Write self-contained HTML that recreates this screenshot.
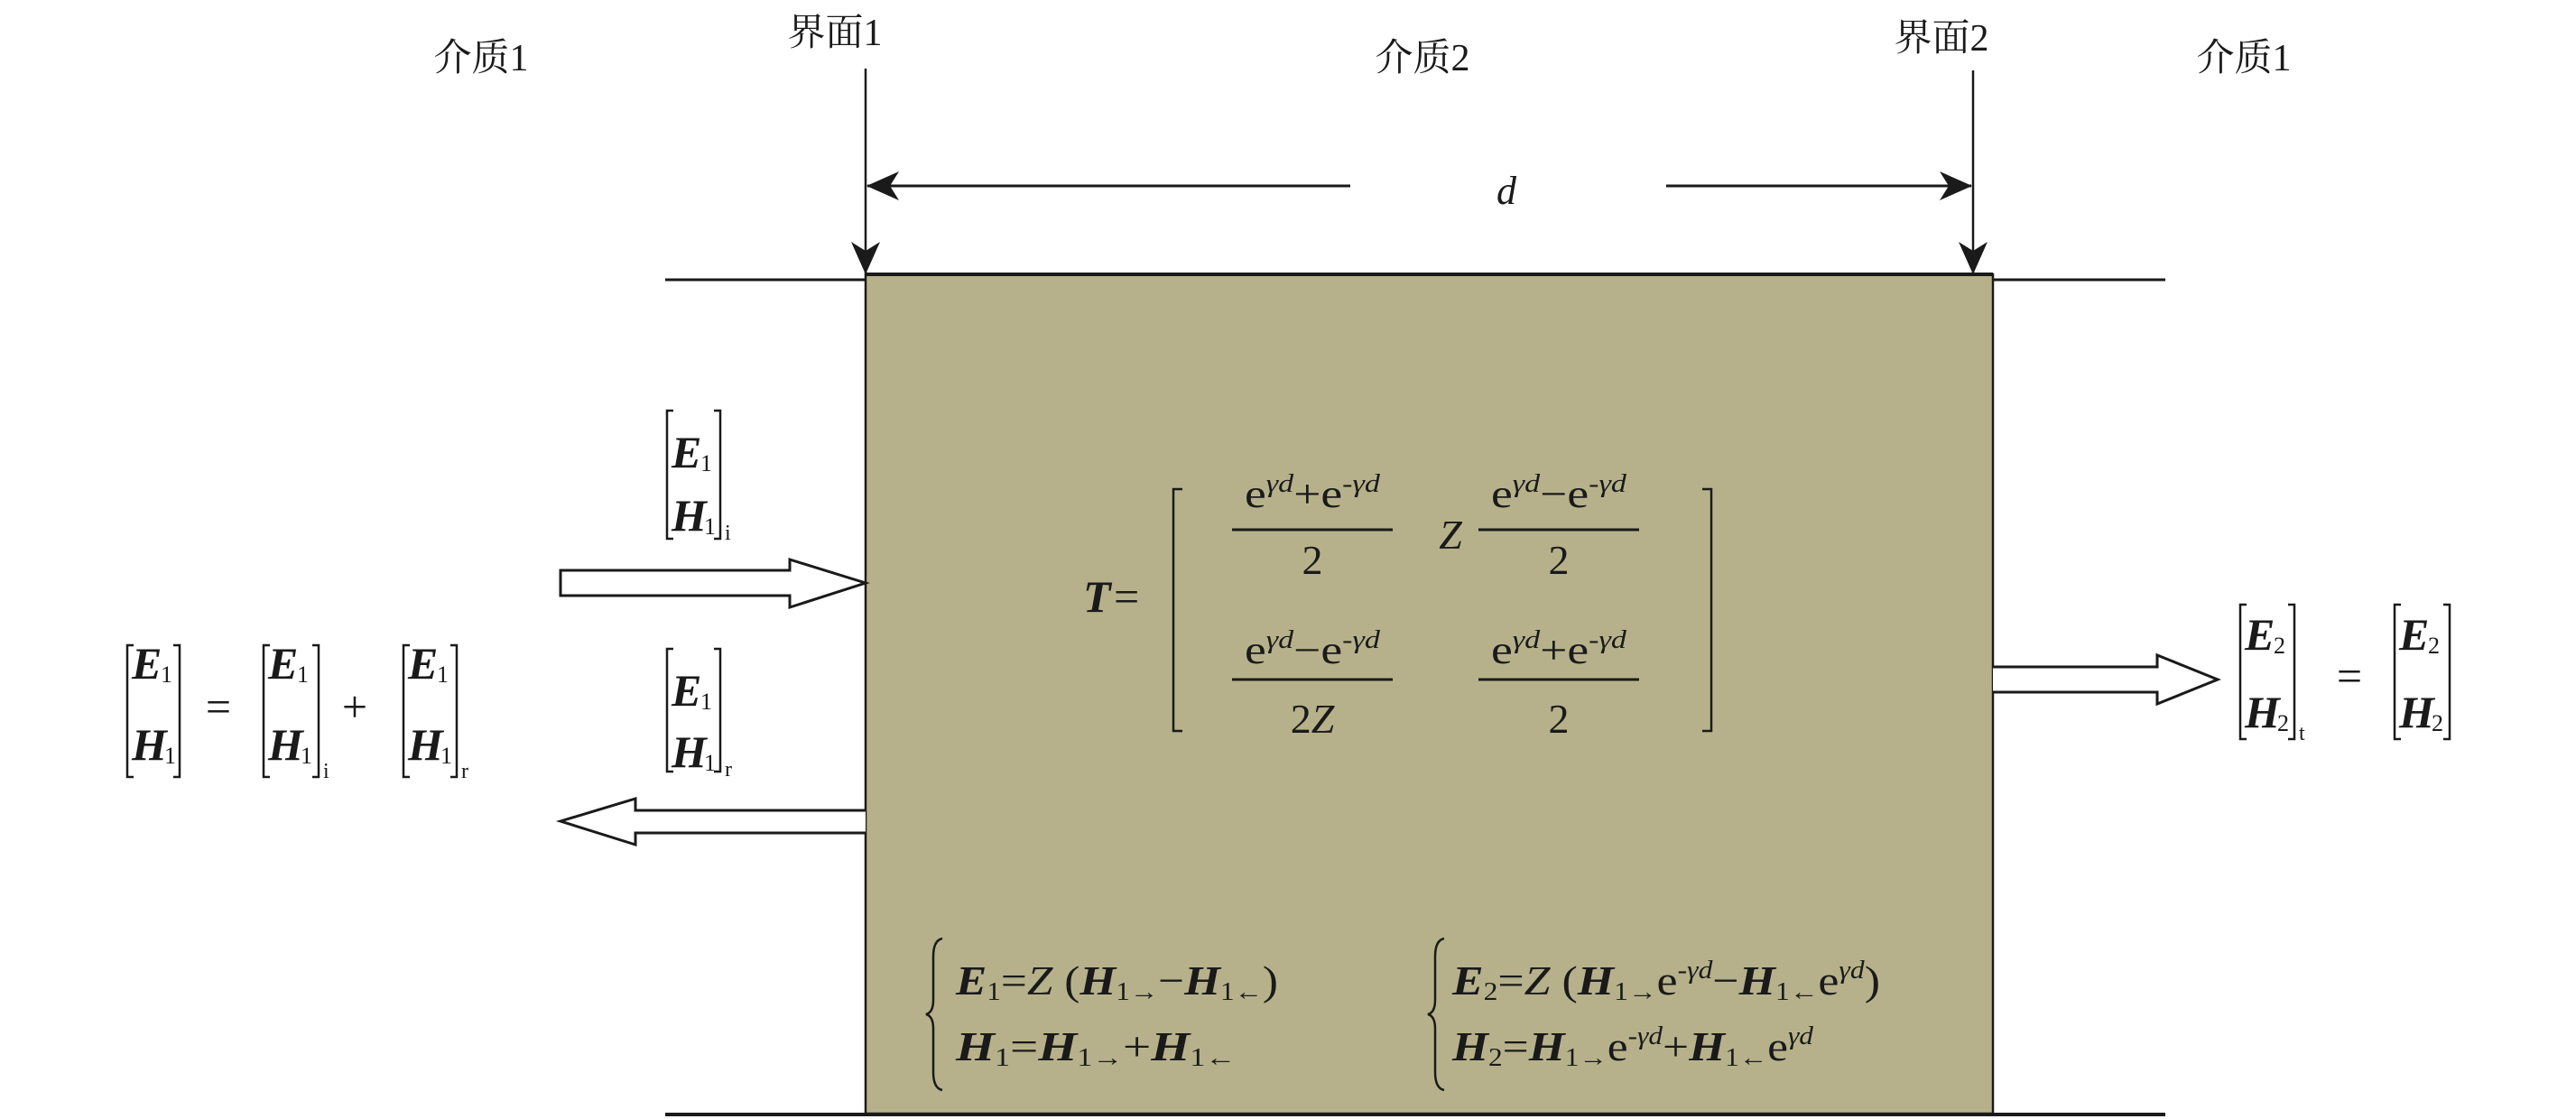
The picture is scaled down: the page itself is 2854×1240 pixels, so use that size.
<!DOCTYPE html>
<html><head><meta charset="utf-8"><style>
html,body{margin:0;padding:0;background:#fff;}
svg{display:block;}
text{font-family:"Liberation Serif","Noto Serif CJK SC",serif;fill:#1a1a1a;}
.cn{font-family:"Liberation Serif","Noto Serif CJK SC","Noto Sans CJK SC",serif;font-size:42px;}
.b{font-weight:bold;font-style:italic;}
.i{font-style:italic;}
</style></head><body>
<svg width="2854" height="1240" viewBox="0 0 2854 1240" xmlns="http://www.w3.org/2000/svg">
<defs>
<marker id="ahl" viewBox="0 0 36 36" refX="35" refY="18" markerWidth="36" markerHeight="36" markerUnits="userSpaceOnUse" orient="auto">
<path d="M0,2 L36,18 L0,34 L10,18 Z" fill="#1a1a1a"/>
</marker>
</defs>

<text class="cn" x="533" y="78" text-anchor="middle">介质1</text>
<text class="cn" x="925" y="50" text-anchor="middle">界面1</text>
<text class="cn" x="1576" y="78" text-anchor="middle">介质2</text>
<text class="cn" x="2151" y="56" text-anchor="middle">界面2</text>
<text class="cn" x="2486" y="78" text-anchor="middle">介质1</text>

<rect x="959" y="304" width="1249" height="930" fill="#b7b18b" stroke="#1a1a1a" stroke-width="2.5"/>
<line x1="959" y1="304" x2="2208" y2="304" stroke="#1a1a1a" stroke-width="4"/>
<line x1="737" y1="310" x2="959" y2="310" stroke="#1a1a1a" stroke-width="3"/>
<line x1="2208" y1="310" x2="2399" y2="310" stroke="#1a1a1a" stroke-width="3"/>
<line x1="737" y1="1235" x2="2399" y2="1235" stroke="#1a1a1a" stroke-width="4"/>

<line x1="959" y1="76" x2="959" y2="303" stroke="#1a1a1a" stroke-width="2.5" marker-end="url(#ahl)"/>
<line x1="2186" y1="78" x2="2186" y2="303" stroke="#1a1a1a" stroke-width="2.5" marker-end="url(#ahl)"/>
<line x1="1496" y1="206" x2="961" y2="206" stroke="#1a1a1a" stroke-width="3" marker-end="url(#ahl)"/>
<line x1="1846" y1="206" x2="2184" y2="206" stroke="#1a1a1a" stroke-width="3" marker-end="url(#ahl)"/>
<text class="i" x="1669" y="226" font-size="44" text-anchor="middle">d</text>

<path d="M621,632 L875,632 L875,620 L959,646 L875,673 L875,660 L621,660 Z" fill="#fff" stroke="#1a1a1a" stroke-width="3"/>
<path d="M959,898 L704,898 L704,885 L621,910 L704,936 L704,923 L959,923" fill="#fff" stroke="#1a1a1a" stroke-width="3"/>
<path d="M2208,739 L2390,739 L2390,726 L2457,753 L2390,780 L2390,767 L2208,767" fill="#fff" stroke="#1a1a1a" stroke-width="3"/>

<g stroke="#1a1a1a" stroke-width="2.5" fill="none">
  <path d="M746,455 L739,455 L739,597 L746,597 M791,455 L798,455 L798,597 L791,597"/>
  <path d="M746,719 L739,719 L739,855 L746,855 M791,719 L798,719 L798,855 L791,855"/>
  <path d="M148,715 L141,715 L141,861 L148,861 M192,715 L199,715 L199,861 L192,861"/>
  <path d="M299,715 L292,715 L292,861 L299,861 M346,715 L353,715 L353,861 L346,861"/>
  <path d="M454,715 L447,715 L447,861 L454,861 M499,715 L506,715 L506,861 L499,861"/>
  <path d="M2489,670 L2482,670 L2482,819 L2489,819 M2535,670 L2542,670 L2542,819 L2535,819"/>
  <path d="M2660,670 L2653,670 L2653,819 L2660,819 M2707,670 L2714,670 L2714,819 L2707,819"/>
  <path d="M1310,542 L1300,542 L1300,810 L1310,810 M1886,542 L1896,542 L1896,810 L1886,810"/>
  <path d="M1044,1040 Q1034,1042 1034,1060 L1034,1108 Q1034,1122 1026,1124 Q1034,1126 1034,1140 L1034,1188 Q1034,1206 1044,1208"/>
  <path d="M1600,1040 Q1590,1042 1590,1060 L1590,1108 Q1590,1122 1582,1124 Q1590,1126 1590,1140 L1590,1188 Q1590,1206 1600,1208"/>
</g>

<g font-size="50">
  <text x="744" y="518" class="b">E</text><text x="776" y="522" font-size="26">1</text>
  <text x="744" y="588" class="b">H</text><text x="780" y="592" font-size="26">1</text><text x="803" y="598" font-size="24">i</text>
  <text x="744" y="782" class="b">E</text><text x="776" y="786" font-size="26">1</text>
  <text x="744" y="850" class="b">H</text><text x="780" y="854" font-size="26">1</text><text x="803" y="860" font-size="24">r</text>
  <text x="146" y="752" class="b">E</text><text x="178" y="756" font-size="26">1</text>
  <text x="146" y="842" class="b">H</text><text x="182" y="846" font-size="26">1</text>
  <text x="242" y="800" text-anchor="middle">=</text>
  <text x="297" y="752" class="b">E</text><text x="329" y="756" font-size="26">1</text>
  <text x="297" y="842" class="b">H</text><text x="333" y="846" font-size="26">1</text><text x="358" y="862" font-size="24">i</text>
  <text x="393" y="800" text-anchor="middle">+</text>
  <text x="452" y="752" class="b">E</text><text x="484" y="756" font-size="26">1</text>
  <text x="452" y="842" class="b">H</text><text x="488" y="846" font-size="26">1</text><text x="511" y="862" font-size="24">r</text>
  <text x="2487" y="720" class="b">E</text><text x="2519" y="724" font-size="26">2</text>
  <text x="2487" y="806" class="b">H</text><text x="2523" y="810" font-size="26">2</text><text x="2547" y="820" font-size="24">t</text>
  <text x="2603" y="766" text-anchor="middle">=</text>
  <text x="2658" y="720" class="b">E</text><text x="2690" y="724" font-size="26">2</text>
  <text x="2658" y="806" class="b">H</text><text x="2694" y="810" font-size="26">2</text>

  <text x="1200" y="678" class="b">T</text><text x="1234" y="678">=</text>
  <text x="1454" y="562" text-anchor="middle" font-size="44" textLength="150" lengthAdjust="spacingAndGlyphs">e<tspan font-size="28" dy="-17" class="i">γd</tspan><tspan dy="17">+e</tspan><tspan font-size="28" dy="-17">-</tspan><tspan font-size="28" class="i">γd</tspan></text>
  <line x1="1365" y1="587" x2="1543" y2="587" stroke="#1a1a1a" stroke-width="3"/>
  <text x="1454" y="636" text-anchor="middle" font-size="46">2</text>
  <text x="1607" y="608" text-anchor="middle" class="i" font-size="46">Z</text>
  <text x="1727" y="562" text-anchor="middle" font-size="44" textLength="150" lengthAdjust="spacingAndGlyphs">e<tspan font-size="28" dy="-17" class="i">γd</tspan><tspan dy="17">−e</tspan><tspan font-size="28" dy="-17">-</tspan><tspan font-size="28" class="i">γd</tspan></text>
  <line x1="1638" y1="587" x2="1816" y2="587" stroke="#1a1a1a" stroke-width="3"/>
  <text x="1727" y="636" text-anchor="middle" font-size="46">2</text>

  <text x="1454" y="735" text-anchor="middle" font-size="44" textLength="150" lengthAdjust="spacingAndGlyphs">e<tspan font-size="28" dy="-17" class="i">γd</tspan><tspan dy="17">−e</tspan><tspan font-size="28" dy="-17">-</tspan><tspan font-size="28" class="i">γd</tspan></text>
  <line x1="1365" y1="753" x2="1543" y2="753" stroke="#1a1a1a" stroke-width="3"/>
  <text x="1454" y="812" text-anchor="middle" font-size="46">2<tspan class="i">Z</tspan></text>
  <text x="1727" y="735" text-anchor="middle" font-size="44" textLength="150" lengthAdjust="spacingAndGlyphs">e<tspan font-size="28" dy="-17" class="i">γd</tspan><tspan dy="17">+e</tspan><tspan font-size="28" dy="-17">-</tspan><tspan font-size="28" class="i">γd</tspan></text>
  <line x1="1638" y1="753" x2="1816" y2="753" stroke="#1a1a1a" stroke-width="3"/>
  <text x="1727" y="812" text-anchor="middle" font-size="46">2</text>
</g>

<g font-size="46">
  <text x="1059" y="1102" textLength="357" lengthAdjust="spacingAndGlyphs"><tspan class="b">E</tspan><tspan font-size="28" dy="6">1</tspan><tspan dy="-6">=</tspan><tspan class="i">Z</tspan> (<tspan class="b">H</tspan><tspan font-size="28" dy="6">1→</tspan><tspan dy="-6">−</tspan><tspan class="b">H</tspan><tspan font-size="28" dy="6">1←</tspan><tspan dy="-6">)</tspan></text>
  <text x="1059" y="1175" textLength="310" lengthAdjust="spacingAndGlyphs"><tspan class="b">H</tspan><tspan font-size="28" dy="6">1</tspan><tspan dy="-6">=</tspan><tspan class="b">H</tspan><tspan font-size="28" dy="6">1→</tspan><tspan dy="-6">+</tspan><tspan class="b">H</tspan><tspan font-size="28" dy="6">1←</tspan></text>
  <text x="1609" y="1102" textLength="474" lengthAdjust="spacingAndGlyphs"><tspan class="b">E</tspan><tspan font-size="28" dy="6">2</tspan><tspan dy="-6">=</tspan><tspan class="i">Z</tspan> (<tspan class="b">H</tspan><tspan font-size="28" dy="6">1→</tspan><tspan dy="-6">e</tspan><tspan font-size="28" dy="-18">-</tspan><tspan font-size="28" class="i">γd</tspan><tspan dy="18">−</tspan><tspan class="b">H</tspan><tspan font-size="28" dy="6">1←</tspan><tspan dy="-6">e</tspan><tspan font-size="28" dy="-18" class="i">γd</tspan><tspan dy="18">)</tspan></text>
  <text x="1609" y="1175" textLength="400" lengthAdjust="spacingAndGlyphs"><tspan class="b">H</tspan><tspan font-size="28" dy="6">2</tspan><tspan dy="-6">=</tspan><tspan class="b">H</tspan><tspan font-size="28" dy="6">1→</tspan><tspan dy="-6">e</tspan><tspan font-size="28" dy="-18">-</tspan><tspan font-size="28" class="i">γd</tspan><tspan dy="18">+</tspan><tspan class="b">H</tspan><tspan font-size="28" dy="6">1←</tspan><tspan dy="-6">e</tspan><tspan font-size="28" dy="-18" class="i">γd</tspan></text>
</g>
</svg>
</body></html>
